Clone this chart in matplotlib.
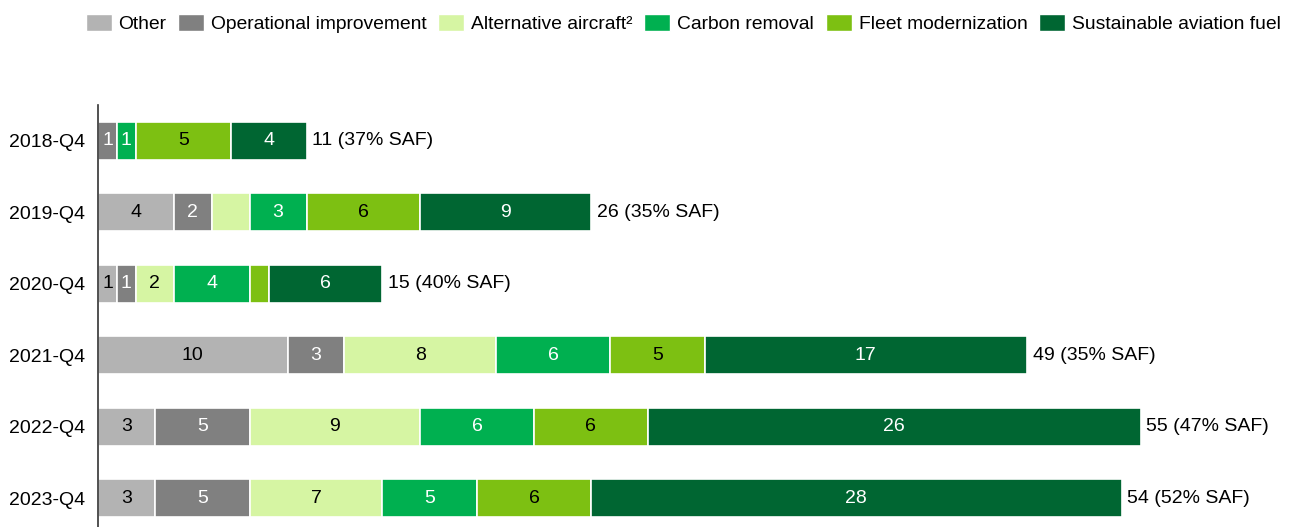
import matplotlib
matplotlib.use("Agg")
import matplotlib.pyplot as plt
from matplotlib.patches import Patch

plt.rcParams["font.family"] = ["Liberation Sans", "DejaVu Sans"]

# Dados
periodos = ["2018-Q4", "2019-Q4", "2020-Q4", "2021-Q4", "2022-Q4", "2023-Q4"]
series = ["Other", "Operational improvement", "Alternative aircraft²",
          "Carbon removal", "Fleet modernization", "Sustainable aviation fuel"]
other = [0, 4, 1, 10, 3, 3]
operational = [1, 2, 1, 3, 5, 5]
alternative = [0, 2, 2, 8, 9, 7]
carbon = [1, 3, 4, 6, 6, 5]
fleet = [5, 6, 1, 5, 6, 6]
saf = [4, 9, 6, 17, 26, 28]
totais = [11, 26, 15, 49, 55, 54]
pct_saf = [37, 35, 40, 35, 47, 52]
# segmentos sem rótulo no original: (linha, série)
sem_rotulo = {(1, 2), (2, 4)}

valores = [other, operational, alternative, carbon, fleet, saf]
cores = ["#b3b3b3", "#808080", "#d6f5a3", "#00b050", "#7dc012", "#006632"]
cores_texto = ["black", "white", "black", "white", "black", "white"]
fs = 14

fig = plt.figure(figsize=(12.98, 5.27), dpi=100)
ax = fig.add_axes([98 / 1298, -7 / 527, 1200 / 1298, 429 / 527])

y = list(range(len(periodos)))
esquerda = [0] * len(periodos)
for s, (vals, cor, ct) in enumerate(zip(valores, cores, cores_texto)):
    ax.barh(y, vals, left=esquerda, height=0.53, color=cor,
            edgecolor="white", linewidth=1.2)
    for i, v in enumerate(vals):
        if v > 0 and (i, s) not in sem_rotulo:
            ax.text(esquerda[i] + v / 2, i, str(v), ha="center", va="center",
                    color=ct, fontsize=fs)
    esquerda = [a + b for a, b in zip(esquerda, vals)]

for i, (t, p) in enumerate(zip(totais, pct_saf)):
    ax.text(t + 0.3, i, f"{t} ({p}% SAF)", ha="left", va="center", fontsize=fs)

ax.set_yticks(y)
ax.set_yticklabels(periodos, fontsize=fs)
ax.set_ylim(5.5, -0.5)
ax.set_xlim(0, 63.3)
ax.set_xticks([])
ax.tick_params(axis="y", length=0, pad=9)
for lado in ["top", "right", "bottom"]:
    ax.spines[lado].set_visible(False)
ax.spines["left"].set_color("#333333")
ax.spines["left"].set_linewidth(1.2)

handles = [Patch(facecolor=c, edgecolor="white", label=n) for c, n in zip(cores, series)]
fig.legend(handles=handles, loc="upper left", bbox_to_anchor=(72 / 1298, 1.0),
           ncol=6, frameon=False, fontsize=13.9, handlelength=1.35,
           handleheight=1.05, handletextpad=0.36, columnspacing=0.6,
           borderaxespad=0.3)

fig.savefig("out.png", dpi=100)
